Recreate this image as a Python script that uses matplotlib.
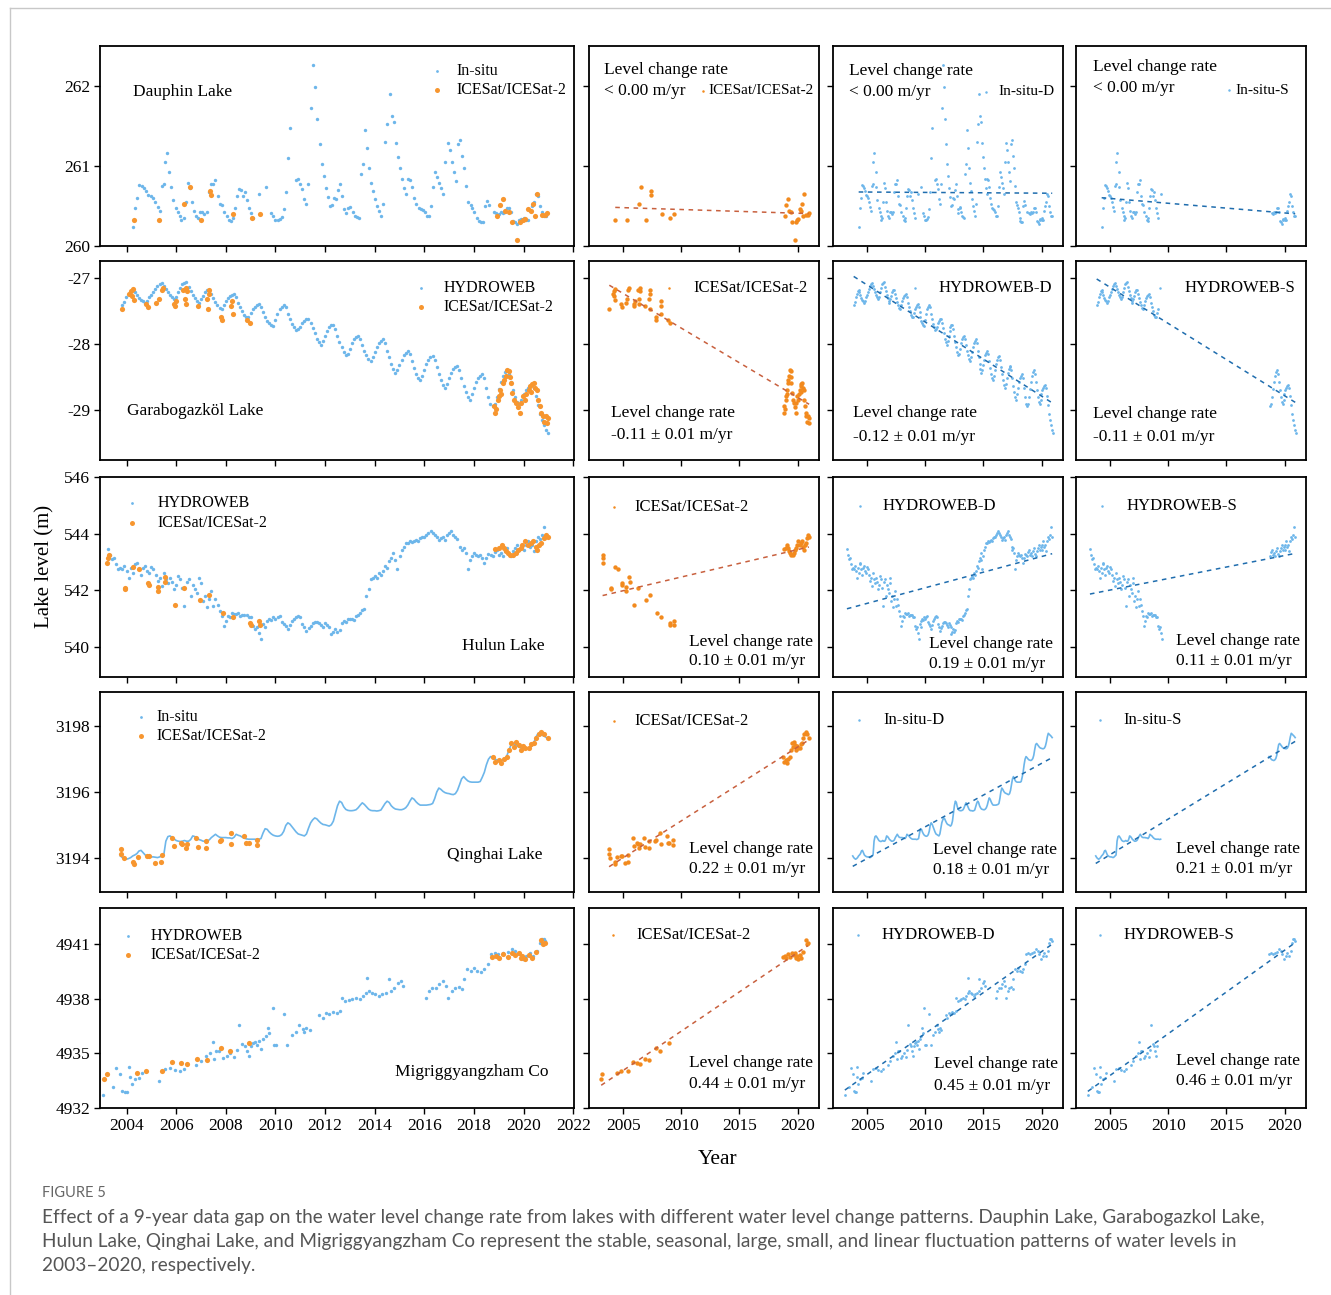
import numpy as np
import matplotlib
matplotlib.use("Agg")
import matplotlib.pyplot as plt
from matplotlib.lines import Line2D

plt.rcParams["font.family"] = ["Liberation Serif", "DejaVu Serif"]
plt.rcParams["axes.unicode_minus"] = False

W, H = 1331, 1295
BLUE = "#6db6ea"
ORANGE = "#f7962f"
ORANGE2 = "#f28a1e"
RED_LINE = "#c8603e"
BLUE_LINE = "#1f6dae"

# ---------------- data ----------------
# Dauphin Lake, in-situ
dau_t = [2004.26, 2004.35, 2004.43, 2004.52, 2004.61, 2004.70, 2004.79, 2004.88, 2004.97, 2005.07,
         2005.16, 2005.25, 2005.35, 2005.43, 2005.50, 2005.53, 2005.62, 2005.71, 2005.79, 2005.88,
         2005.98, 2006.06, 2006.14, 2006.21, 2006.30, 2006.38, 2006.47, 2006.56, 2006.63, 2006.70,
         2006.78, 2006.86, 2006.95, 2007.04, 2007.13, 2007.23, 2007.31, 2007.41, 2007.50, 2007.58,
         2007.68, 2007.76, 2007.84, 2007.94, 2008.04, 2008.12, 2008.21, 2008.29, 2008.37, 2008.44,
         2008.53, 2008.61, 2008.69, 2008.78, 2008.86, 2008.94, 2009.03, 2009.11, 2009.34, 2009.60,
         2009.84, 2009.92, 2010.00, 2010.09, 2010.17, 2010.25, 2010.34, 2010.41, 2010.51, 2010.60,
         2010.83, 2010.92, 2011.00, 2011.07, 2011.15, 2011.23, 2011.32, 2011.42, 2011.51, 2011.61,
         2011.69, 2011.78, 2011.86, 2011.94, 2012.03, 2012.11, 2012.18, 2012.27, 2012.35, 2012.43,
         2012.52, 2012.60, 2012.69, 2012.77, 2012.85, 2012.94, 2013.02, 2013.11, 2013.19, 2013.27,
         2013.35, 2013.44, 2013.52, 2013.61, 2013.68, 2013.77, 2013.85, 2013.93, 2014.01, 2014.10,
         2014.18, 2014.26, 2014.35, 2014.43, 2014.50, 2014.60, 2014.68, 2014.76, 2014.84, 2014.93,
         2015.02, 2015.10, 2015.18, 2015.27, 2015.35, 2015.43, 2015.52, 2015.60, 2015.68, 2015.77,
         2015.85, 2015.94, 2016.02, 2016.10, 2016.19, 2016.27, 2016.35, 2016.44, 2016.52, 2016.60,
         2016.69, 2016.77, 2016.85, 2016.94, 2017.02, 2017.10, 2017.19, 2017.27, 2017.36, 2017.44,
         2017.52, 2017.61, 2017.69, 2017.77, 2017.86, 2017.94, 2018.02, 2018.11, 2018.19, 2018.27,
         2018.36, 2018.44, 2018.52, 2018.61, 2018.79, 2018.88, 2019.00, 2019.08, 2019.16, 2019.25,
         2019.33, 2019.42, 2019.50, 2019.58, 2019.66, 2019.75, 2019.83, 2019.91, 2020.00, 2020.08,
         2020.16, 2020.25, 2020.33, 2020.41, 2020.50, 2020.58, 2020.66, 2020.75, 2020.83, 2020.92]
dau_v = [260.24, 260.47, 260.60, 260.76, 260.75, 260.72, 260.69, 260.64, 260.63, 260.60,
         260.55, 260.49, 260.44, 260.75, 260.78, 261.05, 261.16, 260.92, 260.74, 260.57,
         260.48, 260.42, 260.37, 260.33, 260.35, 260.55, 260.79, 260.72, 260.55, 260.44,
         260.37, 260.35, 260.43, 260.42, 260.40, 260.42, 260.67, 260.78, 260.78, 260.82,
         260.63, 260.52, 260.51, 260.43, 260.37, 260.33, 260.31, 260.35, 260.48, 260.63,
         260.71, 260.70, 260.63, 260.67, 260.57, 260.47, 260.41, 260.35, 260.65, 260.74,
         260.41, 260.37, 260.32, 260.33, 260.34, 260.36, 260.46, 260.68, 261.10, 261.47,
         260.83, 260.84, 260.78, 260.71, 260.59, 260.53, 260.78, 261.73, 262.26, 261.99,
         261.59, 261.27, 261.02, 260.87, 260.73, 260.61, 260.50, 260.51, 260.60, 260.59,
         260.70, 260.78, 260.63, 260.46, 260.41, 260.48, 260.49, 260.43, 260.38, 260.36,
         260.35, 260.90, 261.03, 261.45, 261.23, 260.97, 260.79, 260.69, 260.59, 260.50,
         260.44, 260.38, 260.52, 261.30, 261.53, 261.90, 261.62, 261.55, 261.29, 261.11,
         260.97, 260.84, 260.72, 260.65, 260.84, 260.83, 260.74, 260.60, 260.52, 260.48,
         260.46, 260.45, 260.43, 260.38, 260.37, 260.50, 260.74, 260.92, 260.86, 260.79,
         260.73, 260.65, 261.05, 261.29, 261.20, 261.05, 260.92, 260.81, 261.27, 261.33,
         261.13, 260.97, 260.75, 260.55, 260.51, 260.47, 260.42, 260.35, 260.31, 260.30,
         260.30, 260.50, 260.56, 260.51, 260.42, 260.41, 260.40, 260.43, 260.41, 260.42,
         260.48, 260.48, 260.42, 260.31, 260.30, 260.28, 260.33, 260.34, 260.35, 260.33,
         260.33, 260.44, 260.50, 260.55, 260.65, 260.62, 260.50, 260.43, 260.38, 260.38]
# Dauphin Lake, ICESat/ICESat-2
dau_ice_t = [2004.31, 2005.32, 2006.33, 2006.56, 2006.98, 2007.37, 2007.39, 2008.30, 2009.05, 2009.36,
             2018.94, 2019.04, 2019.17, 2019.24, 2019.42, 2019.52, 2019.75, 2019.84, 2019.98, 2020.05,
             2020.19, 2020.29, 2020.39, 2020.46, 2020.53, 2020.74, 2020.88, 2020.95]
dau_ice_v = [260.32, 260.33, 260.53, 260.74, 260.32, 260.69, 260.64, 260.40, 260.35, 260.40,
             260.38, 260.51, 260.59, 260.44, 260.43, 260.30, 260.08, 260.30, 260.33, 260.34,
             260.46, 260.44, 260.53, 260.38, 260.65, 260.39, 260.39, 260.41]

# Garabogazkol Lake, HYDROWEB (monthly from Nov 2003)
gar_t0 = 2003.83
gar_v = [-27.42, -27.37,
         -27.30, -27.24, -27.20, -27.18, -27.22, -27.27, -27.31, -27.34, -27.36, -27.38, -27.36, -27.30,
         -27.26, -27.22, -27.17, -27.13, -27.10, -27.08, -27.12, -27.17, -27.22, -27.26, -27.30, -27.33,
         -27.30, -27.22, -27.15, -27.10, -27.08, -27.07, -27.14, -27.20, -27.26, -27.31, -27.36, -27.38,
         -27.33, -27.28, -27.22, -27.19, -27.18, -27.24, -27.31, -27.37, -27.42, -27.46, -27.48, -27.42,
         -27.36, -27.31, -27.28, -27.26, -27.25, -27.30, -27.38, -27.45, -27.51, -27.56, -27.59, -27.60,
         -27.54, -27.48, -27.44, -27.41, -27.40, -27.44, -27.52, -27.59, -27.65, -27.69, -27.72, -27.73,
         -27.64, -27.55, -27.48, -27.44, -27.42, -27.45, -27.55, -27.63, -27.70, -27.75, -27.79, -27.78,
         -27.74, -27.69, -27.65, -27.63, -27.62, -27.68, -27.76, -27.84, -27.92, -27.97, -28.01, -27.95,
         -27.88, -27.80, -27.75, -27.72, -27.71, -27.78, -27.88, -27.97, -28.05, -28.12, -28.17, -28.15,
         -28.07, -27.99, -27.93, -27.90, -27.88, -27.92, -28.02, -28.10, -28.17, -28.22, -28.26, -28.20,
         -28.12, -28.04, -27.98, -27.95, -27.93, -27.98, -28.10, -28.20, -28.30, -28.38, -28.44, -28.40,
         -28.32, -28.24, -28.17, -28.13, -28.11, -28.15, -28.26, -28.36, -28.45, -28.51, -28.55, -28.48,
         -28.40, -28.31, -28.24, -28.20, -28.18, -28.24, -28.35, -28.46, -28.55, -28.62, -28.66, -28.60,
         -28.52, -28.44, -28.38, -28.35, -28.33, -28.40, -28.52, -28.63, -28.73, -28.80, -28.84, -28.76,
         -28.66, -28.57, -28.51, -28.48, -28.46, -28.52, -28.66, -28.80, -28.90, -28.94, -28.90, -28.80,
         -28.68, -28.57, -28.48, -28.42, -28.40, -28.45, -28.58, -28.70, -28.80, -28.87, -28.90, -28.84,
         -28.76, -28.70, -28.66, -28.64, -28.62, -28.66, -28.78, -28.92, -29.05, -29.15, -29.22, -29.30,
         -29.35]
gar_ice_t = [2003.80, 2004.10, 2004.17, 2004.22, 2004.26, 2004.31, 2004.78, 2004.85, 2005.20, 2005.32,
             2005.42, 2005.48, 2005.91, 2005.95, 2005.98, 2006.26, 2006.36, 2006.38, 2006.40, 2006.44,
             2006.89, 2007.24, 2007.28, 2007.31, 2007.33, 2007.79, 2007.84, 2008.21, 2008.24, 2008.28,
             2008.84, 2008.98,
             2018.80, 2018.84, 2018.90, 2018.98, 2019.00, 2019.06, 2019.10, 2019.16, 2019.22, 2019.27,
             2019.33, 2019.40, 2019.44, 2019.48, 2019.55, 2019.62, 2019.69, 2019.76, 2019.84, 2019.90,
             2019.96, 2020.04, 2020.10, 2020.20, 2020.26, 2020.30, 2020.33, 2020.40, 2020.46, 2020.52,
             2020.58, 2020.64, 2020.70, 2020.77, 2020.83, 2020.90, 2020.96, 2021.00]
gar_ice_v = [-27.48, -27.24, -27.20, -27.28, -27.17, -27.34, -27.40, -27.45, -27.38, -27.33,
             -27.18, -27.15, -27.40, -27.43, -27.36, -27.18, -27.33, -27.40, -27.15, -27.20,
             -27.43, -27.33, -27.48, -27.25, -27.18, -27.60, -27.64, -27.43, -27.35, -27.55,
             -27.64, -27.68,
             -28.94, -29.04, -28.98, -28.85, -28.79, -28.69, -28.75, -28.59, -28.55, -28.48,
             -28.39, -28.41, -28.50, -28.59, -28.74, -28.84, -28.89, -28.95, -29.04, -28.89,
             -28.79, -28.85, -28.75, -28.69, -28.64, -28.72, -28.61, -28.59, -28.66, -28.69,
             -28.84, -28.94, -29.04, -29.09, -29.17, -29.09, -29.19, -29.12]

# Hulun Lake, HYDROWEB (monthly from Apr 2003)
hul_t0 = 2003.25
hul_v = [543.45, 543.25, 543.10, 543.15, 542.95, 542.75, 542.80, 542.76, 542.85,
         542.70, 542.45, 542.80, 542.60, 542.95, 542.97, 542.74, 542.56, 542.80, 542.86, 542.70, 542.62,
         542.83, 542.76, 542.55, 542.33, 542.45, 542.16, 542.62, 542.40, 542.27, 542.45, 542.30, 542.04,
         542.20, 542.51, 542.39, 542.10, 541.46, 542.30, 542.39, 541.81, 542.21, 542.04, 541.90, 542.45,
         542.27, 541.63, 541.81, 541.40, 541.70, 541.98, 541.46, 541.69, 541.50, 541.28, 541.11, 540.76,
         540.93, 541.11, 541.05, 541.22, 541.18, 541.17, 541.20, 541.11, 541.14, 541.15, 541.12, 541.05,
         541.05, 540.76, 540.64, 540.70, 540.50, 540.29, 540.82, 540.70, 540.93, 540.99, 540.95, 541.05,
         540.99, 541.05, 541.11, 540.90, 540.82, 540.76, 540.64, 540.80, 540.93, 540.99, 541.05, 541.11,
         541.08, 540.82, 540.70, 540.58, 540.66, 540.75, 540.87, 540.90, 540.88, 540.85, 540.80, 540.70,
         540.85, 540.80, 540.70, 540.47, 540.55, 540.64, 540.52, 540.60, 540.87, 540.93, 540.90, 540.99,
         540.99, 541.00, 540.95, 541.11, 541.15, 541.22, 541.30, 541.34, 541.81, 542.04, 542.39, 542.45,
         542.51, 542.45, 542.62, 542.55, 542.68, 542.85, 542.80, 543.03, 543.15, 543.32, 543.09, 542.74,
         543.20, 543.44, 543.55, 543.67, 543.67, 543.73, 543.70, 543.73, 543.78, 543.73, 543.85, 543.90,
         543.90, 543.96, 544.02, 544.08, 544.02, 543.96, 543.90, 543.79, 543.85, 543.90, 543.79, 543.96,
         544.02, 544.08, 543.95, 543.90, 543.80, 543.55, 543.44, 543.50, 543.32, 542.74, 543.09, 543.21,
         543.32, 543.25, 543.21, 543.26, 543.15, 542.97, 543.15, 543.30, 543.26, 543.21, 543.35, 543.44,
         543.26, 543.32, 543.21, 543.38, 543.50, 543.30, 543.21, 543.38, 543.50, 543.61, 543.44, 543.55,
         543.44, 543.61, 543.73, 543.55, 543.61, 543.40, 543.73, 543.90, 543.80, 543.95, 544.25, 543.90]
hul_ice_t = [2003.22, 2003.25, 2003.28, 2003.92, 2003.93, 2004.27, 2004.52, 2004.88, 2004.89, 2005.26,
             2005.27, 2005.53, 2005.54, 2005.94, 2006.30, 2006.96, 2007.33, 2007.89, 2008.28, 2008.99,
             2009.00, 2009.35, 2009.36,
             2018.85, 2018.99, 2019.13, 2019.20, 2019.27, 2019.37, 2019.47, 2019.57, 2019.68, 2019.78,
             2019.88, 2019.95, 2020.07, 2020.18, 2020.28, 2020.38, 2020.48, 2020.55, 2020.62, 2020.69,
             2020.84, 2020.91, 2020.98]
hul_ice_v = [542.97, 543.15, 543.26, 542.10, 542.04, 542.82, 542.77, 542.27, 542.21, 542.13,
             541.98, 542.47, 542.30, 541.48, 542.07, 541.66, 541.83, 541.19, 541.05, 540.87,
             540.78, 540.93, 540.78,
             543.46, 543.50, 543.61, 543.50, 543.38, 543.32, 543.26, 543.26, 543.32, 543.44,
             543.50, 543.61, 543.73, 543.61, 543.67, 543.73, 543.53, 543.44, 543.61, 543.67,
             543.85, 543.96, 543.90]

# Qinghai Lake, in-situ (monthly from Oct 2003)
qin_t0 = 2003.75
qin_v = [3194.05, 3194.00, 3193.97,
         3193.95, 3193.97, 3194.00, 3194.05, 3194.08, 3194.12, 3194.20, 3194.22, 3194.15, 3194.08, 3194.05, 3194.03,
         3194.02, 3194.02, 3194.01, 3194.00, 3194.02, 3194.05, 3194.08, 3194.50, 3194.64, 3194.66, 3194.62, 3194.57,
         3194.52, 3194.50, 3194.49, 3194.50, 3194.52, 3194.50, 3194.50, 3194.55, 3194.66, 3194.64, 3194.60, 3194.55,
         3194.53, 3194.50, 3194.50, 3194.51, 3194.54, 3194.61, 3194.66, 3194.71, 3194.66, 3194.62, 3194.61, 3194.61,
         3194.61, 3194.60, 3194.60, 3194.58, 3194.62, 3194.71, 3194.68, 3194.66, 3194.62, 3194.59, 3194.57, 3194.56,
         3194.56, 3194.56, 3194.56, 3194.55, 3194.56, 3194.58, 3194.75, 3194.88, 3194.86, 3194.78, 3194.72, 3194.68,
         3194.66, 3194.65, 3194.66, 3194.70, 3194.80, 3194.98, 3195.06, 3195.02, 3194.94, 3194.86, 3194.78, 3194.72,
         3194.70, 3194.68, 3194.66, 3194.72, 3194.90, 3195.06, 3195.15, 3195.21, 3195.18, 3195.11, 3195.05, 3195.01,
         3195.00, 3194.98, 3194.96, 3195.00, 3195.11, 3195.35, 3195.58, 3195.72, 3195.68, 3195.55, 3195.47, 3195.44,
         3195.43, 3195.43, 3195.44, 3195.46, 3195.52, 3195.60, 3195.67, 3195.62, 3195.55, 3195.48, 3195.44, 3195.43,
         3195.43, 3195.42, 3195.43, 3195.45, 3195.55, 3195.65, 3195.72, 3195.68, 3195.58, 3195.52, 3195.48, 3195.47,
         3195.46, 3195.46, 3195.48, 3195.52, 3195.60, 3195.72, 3195.82, 3195.78, 3195.70, 3195.64, 3195.60, 3195.60,
         3195.60, 3195.60, 3195.61, 3195.62, 3195.65, 3195.80, 3196.00, 3196.12, 3196.08, 3196.02, 3195.98, 3195.96,
         3195.95, 3195.93, 3195.92, 3195.95, 3196.05, 3196.22, 3196.40, 3196.47, 3196.40, 3196.34, 3196.31, 3196.30,
         3196.30, 3196.30, 3196.30, 3196.32, 3196.45, 3196.60, 3196.83, 3197.00, 3197.08, 3197.05, 3197.01, 3196.98,
         3196.97, 3196.96, 3196.98, 3197.02, 3197.12, 3197.30, 3197.45, 3197.48, 3197.44, 3197.40, 3197.36, 3197.34,
         3197.33, 3197.32, 3197.32, 3197.34, 3197.40, 3197.52, 3197.68, 3197.79, 3197.76, 3197.73, 3197.70, 3197.66]
qin_ice_t = [2003.78, 2003.79, 2003.88, 2004.25, 2004.30, 2004.48, 2004.83, 2004.90, 2005.13, 2005.40,
             2005.41, 2005.85, 2005.90, 2006.18, 2006.24, 2006.38, 2006.45, 2006.80, 2006.86, 2007.20,
             2007.21, 2007.76, 2007.80, 2008.20, 2008.21, 2008.75, 2008.82, 2008.95, 2009.25, 2009.26,
             2018.75, 2018.85, 2019.00, 2019.07, 2019.20, 2019.33, 2019.42, 2019.50, 2019.60, 2019.70,
             2019.80, 2019.90, 2019.98, 2020.06, 2020.20, 2020.30, 2020.40, 2020.50, 2020.60, 2020.70,
             2020.84, 2020.98]
qin_ice_v = [3194.25, 3194.10, 3194.00, 3193.85, 3193.80, 3194.02, 3194.05, 3194.05, 3193.82, 3193.85,
             3194.08, 3194.59, 3194.35, 3194.45, 3194.42, 3194.28, 3194.40, 3194.61, 3194.32, 3194.50,
             3194.30, 3194.50, 3194.53, 3194.76, 3194.42, 3194.66, 3194.45, 3194.43, 3194.54, 3194.38,
             3197.08, 3196.93, 3196.98, 3196.88, 3197.01, 3197.08, 3197.28, 3197.48, 3197.38, 3197.53,
             3197.43, 3197.28, 3197.40, 3197.33, 3197.35, 3197.45, 3197.48, 3197.64, 3197.76, 3197.82,
             3197.76, 3197.66]

# Migriggyangzham Co, HYDROWEB
mig_t = [2003.07, 2003.44, 2003.56, 2003.75, 2003.83, 2003.93, 2004.03, 2004.11, 2004.14, 2004.21,
         2004.35, 2004.51, 2004.62, 2005.32, 2005.53, 2005.74, 2005.94, 2006.15, 2006.33, 2006.78,
         2006.99, 2007.19, 2007.38, 2007.50, 2007.54, 2007.61, 2007.71, 2007.89, 2008.03, 2008.17,
         2008.31, 2008.44, 2008.54, 2008.65, 2008.76, 2008.86, 2008.93, 2009.00, 2009.10, 2009.18,
         2009.26, 2009.35, 2009.42, 2009.51, 2009.63, 2009.69, 2009.76, 2009.90, 2009.93, 2010.04,
         2010.33, 2010.46, 2010.67, 2010.81, 2010.96, 2011.10, 2011.17, 2011.24, 2011.38, 2011.76,
         2011.90, 2012.03, 2012.17, 2012.32, 2012.46, 2012.60, 2012.67, 2012.82, 2012.96, 2013.10,
         2013.26, 2013.40, 2013.53, 2013.63, 2013.69, 2013.75, 2013.89, 2014.03, 2014.17, 2014.31,
         2014.44, 2014.58, 2014.65, 2014.79, 2014.92, 2015.07, 2015.14, 2016.07, 2016.17, 2016.31,
         2016.47, 2016.61, 2016.75, 2016.89, 2016.97, 2017.10, 2017.24, 2017.38, 2017.51, 2017.58,
         2017.72, 2017.86, 2018.00, 2018.14, 2018.28, 2018.42, 2018.56, 2018.70, 2018.83, 2018.97,
         2019.18, 2019.39, 2019.53, 2019.67, 2019.82, 2019.97, 2020.10, 2020.25, 2020.39, 2020.53,
         2020.67, 2020.74, 2020.81, 2020.88]
mig_v = [4932.74, 4933.16, 4934.21, 4933.89, 4932.92, 4932.86, 4932.86, 4934.24, 4933.71, 4933.34,
         4933.60, 4933.65, 4933.93, 4933.47, 4934.17, 4934.21, 4934.11, 4934.06, 4934.15, 4934.35,
         4934.57, 4934.85, 4935.03, 4935.62, 4934.67, 4935.12, 4935.12, 4934.76, 4934.85, 4935.00,
         4934.81, 4935.18, 4936.54, 4935.53, 4935.40, 4935.12, 4934.85, 4935.40, 4935.55, 4935.62,
         4935.49, 4935.68, 4935.25, 4935.77, 4935.95, 4936.41, 4936.14, 4937.51, 4935.49, 4935.49,
         4937.15, 4935.49, 4936.04, 4936.17, 4936.54, 4936.36, 4936.17, 4936.41, 4936.28, 4937.09,
         4936.96, 4937.24, 4937.15, 4937.28, 4937.24, 4937.33, 4938.07, 4937.88, 4937.94, 4938.01,
         4938.07, 4937.97, 4938.16, 4938.31, 4939.13, 4938.43, 4938.34, 4938.25, 4938.16, 4938.25,
         4938.34, 4939.11, 4938.43, 4938.62, 4938.89, 4938.99, 4938.71, 4938.07, 4938.43, 4938.62,
         4938.62, 4938.80, 4938.99, 4938.71, 4938.07, 4938.43, 4938.62, 4938.67, 4938.53, 4939.08,
         4939.63, 4939.54, 4939.72, 4939.54, 4939.48, 4939.63, 4939.90, 4940.46, 4940.55, 4940.46,
         4940.55, 4940.58, 4940.73, 4940.64, 4940.46, 4940.18, 4940.36, 4940.55, 4940.36, 4940.64,
         4941.10, 4941.32, 4941.28, 4941.19]
mig_ice_t = [2003.10, 2003.21, 2004.42, 2004.79, 2005.43, 2005.85, 2006.19, 2006.43, 2006.85, 2007.24,
             2007.81, 2008.18, 2008.93,
             2018.72, 2018.90, 2019.00, 2019.17, 2019.39, 2019.53, 2019.67, 2019.80, 2019.88, 2019.95,
             2020.04, 2020.22, 2020.32, 2020.50, 2020.71, 2020.80, 2020.88]
mig_ice_v = [4933.60, 4933.89, 4933.93, 4934.02, 4934.02, 4934.54, 4934.48, 4934.44, 4934.70, 4934.63,
             4935.31, 4935.16, 4935.58,
             4940.33, 4940.36, 4940.27, 4940.46, 4940.33, 4940.55, 4940.40, 4940.51, 4940.27, 4940.36,
             4940.18, 4940.40, 4940.27, 4940.58, 4941.25, 4941.01, 4941.06]

lake_names = ["Dauphin Lake", "Garabogazköl Lake", "Hulun Lake", "Qinghai Lake", "Migriggyangzham Co"]
sources = ["In-situ", "HYDROWEB", "HYDROWEB", "In-situ", "HYDROWEB"]
rate_ice = [None, -0.11, 0.10, 0.22, 0.44]
rate_d = [None, -0.12, 0.19, 0.18, 0.45]
rate_s = [None, -0.11, 0.11, 0.21, 0.46]
rate_err = 0.01
ylims = [(260, 262.5), (-29.75, -26.75), (538.95, 546), (3192.95, 3199.05), (4932, 4943)]
yticks = [[260, 261, 262], [-29, -28, -27], [540, 542, 544, 546], [3194, 3196, 3198],
          [4932, 4935, 4938, 4941]]
year_ticks_full = list(range(2004, 2023, 2))
year_ticks_short = [2005, 2010, 2015, 2020]

series = [
    (np.array(dau_t), np.array(dau_v), np.array(dau_ice_t), np.array(dau_ice_v)),
    (gar_t0 + np.arange(len(gar_v)) / 12, np.array(gar_v), np.array(gar_ice_t), np.array(gar_ice_v)),
    (hul_t0 + np.arange(len(hul_v)) / 12, np.array(hul_v), np.array(hul_ice_t), np.array(hul_ice_v)),
    (qin_t0 + np.arange(len(qin_v)) / 12, np.array(qin_v), np.array(qin_ice_t), np.array(qin_ice_v)),
    (np.array(mig_t), np.array(mig_v), np.array(mig_ice_t), np.array(mig_ice_v)),
]

# ---------------- layout ----------------
rows_px = [(46, 246), (261, 460), (477, 677), (692, 892), (908, 1108)]
cols_px = [(100, 574), (589, 819), (833, 1063), (1076, 1306)]

# name position (x, y, ha), legend marker x, legend text x, legend y's
name_pos = [(0.069, 0.769, "left"), (0.057, 0.244, "left"), (0.939, 0.157, "right"),
            (0.933, 0.185, "right"), (0.947, 0.181, "right")]
leg1 = [(0.710, 0.753, 0.874, 0.780), (0.678, 0.724, 0.862, 0.767), (0.067, 0.121, 0.868, 0.768),
        (0.086, 0.120, 0.873, 0.779), (0.060, 0.106, 0.859, 0.766)]
# per row, per col 2-4: legend (marker x, text x, y) and rate text (x, y1, y2)
leg_small = [
    [(0.496, 0.521, 0.776), (0.665, 0.720, 0.772), (0.665, 0.695, 0.778)],
    [(0.348, 0.452, 0.866), (0.355, 0.459, 0.864), (0.367, 0.471, 0.864)],
    [(0.110, 0.197, 0.850), (0.118, 0.216, 0.855), (0.115, 0.219, 0.855)],
    [(0.110, 0.197, 0.855), (0.112, 0.220, 0.860), (0.104, 0.208, 0.860)],
    [(0.103, 0.206, 0.866), (0.107, 0.211, 0.866), (0.103, 0.206, 0.866)],
]
rate_pos = [
    [(0.067, 0.880, 0.777), (0.070, 0.877, 0.772), (0.072, 0.893, 0.788)],
    [(0.094, 0.235, 0.126), (0.087, 0.235, 0.118), (0.073, 0.232, 0.118)],
    [(0.436, 0.174, 0.078), (0.419, 0.167, 0.066), (0.433, 0.178, 0.078)],
    [(0.436, 0.215, 0.116), (0.435, 0.212, 0.111), (0.433, 0.215, 0.116)],
    [(0.433, 0.226, 0.121), (0.437, 0.218, 0.112), (0.433, 0.235, 0.134)],
]

fig = plt.figure(figsize=(W / 100, H / 100), dpi=100)


def make_ax(l, r, t, b):
    return fig.add_axes([l / W, 1 - b / H, (r - l) / W, (b - t) / H])


def key(ax, mx, tx, y, color, label, ms, fs):
    ax.plot([mx], [y], marker="o", ms=ms, color=color, mew=0, ls="none",
            transform=ax.transAxes, clip_on=False)
    ax.text(tx, y, label, transform=ax.transAxes, ha="left", va="center", fontsize=fs)


def trend(ax, t, v, color):
    k, b = np.polyfit(t, v, 1)
    xs = np.array([t.min(), t.max()])
    ax.plot(xs, k * xs + b, ls=(0, (3, 3)), lw=1.1, color=color, zorder=5)


def draw_blue(ax, t, v, row, s):
    if row == 3:
        ax.plot(t, v, color=BLUE, lw=1.2, zorder=2)
    else:
        ax.scatter(t, v, s=s, color=BLUE, lw=0, zorder=2)


for i in range(5):
    t, v, it, iv = series[i]
    top, bot = rows_px[i]
    early = it[it < 2015]
    late = it[it > 2015]
    win = ((t >= early.min() - 0.1) & (t <= early.max() + 0.1)) | \
          ((t >= late.min() - 0.1) & (t <= late.max() + 0.1))
    for j in range(4):
        l, r = cols_px[j]
        ax = make_ax(l, r, top, bot)
        if j == 0:
            draw_blue(ax, t, v, i, 6)
            ax.scatter(it, iv, s=14, color=ORANGE, lw=0, zorder=3)
            ax.set_xlim(2002.93, 2022.03)
            ax.set_xticks(year_ticks_full)
            nx, ny, ha = name_pos[i]
            ax.text(nx, ny, lake_names[i], transform=ax.transAxes, ha=ha, va="center", fontsize=12.5)
            mx, tx, y1, y2 = leg1[i]
            key(ax, mx, tx, y1, BLUE, sources[i], 2.0, 11.5)
            key(ax, mx, tx, y2, ORANGE, "ICESat/ICESat-2", 3.6, 11.5)
        else:
            if j == 1:
                ax.scatter(it, iv, s=10, color=ORANGE2, lw=0, zorder=3)
                trend(ax, it, iv, RED_LINE)
                label, color, rate = "ICESat/ICESat-2", ORANGE2, rate_ice[i]
            elif j == 2:
                draw_blue(ax, t, v, i, 4)
                trend(ax, t, v, BLUE_LINE)
                label, color, rate = sources[i] + "-D", BLUE, rate_d[i]
            else:
                if i == 3:
                    for seg in (t <= 2012, t > 2012):
                        m = win & seg
                        ax.plot(t[m], v[m], color=BLUE, lw=1.2, zorder=2)
                else:
                    ax.scatter(t[win], v[win], s=4, color=BLUE, lw=0, zorder=2)
                trend(ax, t[win], v[win], BLUE_LINE)
                label, color, rate = sources[i] + "-S", BLUE, rate_s[i]
            ax.set_xlim(2002.05, 2021.85)
            ax.set_xticks(year_ticks_short)
            ax.tick_params(labelleft=False)
            mx, tx, y = leg_small[i][j - 1]
            fs = 11 if i == 0 else 12
            key(ax, mx, tx, y, color, label, 1.8, fs)
            rx, ry1, ry2 = rate_pos[i][j - 1]
            rate_txt = "< 0.00 m/yr" if rate is None else f"{rate:.2f} \u00b1 {rate_err:.2f} m/yr"
            ax.text(rx, ry1, "Level change rate", transform=ax.transAxes, ha="left", va="center", fontsize=12.5)
            ax.text(rx, ry2, rate_txt, transform=ax.transAxes, ha="left", va="center", fontsize=12.5)
        ax.set_ylim(*ylims[i])
        ax.set_yticks(yticks[i])
        ax.tick_params(direction="out", length=4, width=1, labelsize=12.5, pad=3)
        if i < 4:
            ax.tick_params(labelbottom=False)
        for sp in ax.spines.values():
            sp.set_linewidth(1.3)

fig.text(718 / W, 1 - 1160 / H, "Year", ha="center", va="center", fontsize=15.5)
fig.text(45 / W, 1 - 566 / H, "Lake level (m)", ha="center", va="center", rotation=90, fontsize=15)

# caption
cap_font = ["Lato", "DejaVu Sans"]
fig.text(42 / W, 1 - 1193 / H, "FIGURE 5", ha="left", va="center", fontsize=10.5,
         color="#666666", family=cap_font)
caption = [
    "Effect of a 9-year data gap on the water level change rate from lakes with different water level change patterns. Dauphin Lake, Garabogazkol Lake,",
    "Hulun Lake, Qinghai Lake, and Migriggyangzham Co represent the stable, seasonal, large, small, and linear fluctuation patterns of water levels in",
    "2003\u20132020, respectively.",
]
for k, line in enumerate(caption):
    fig.text(42 / W, 1 - (1217 + 24 * k) / H, line, ha="left", va="center", fontsize=13.7,
             color="#555555", family=cap_font)

# page border
fig.add_artist(Line2D([10 / W, 10 / W], [0, 1 - 8 / H], transform=fig.transFigure, color="#c8c8c8", lw=1))
fig.add_artist(Line2D([10 / W, 1], [1 - 8 / H, 1 - 8 / H], transform=fig.transFigure, color="#c8c8c8", lw=1))

fig.savefig("out.png", dpi=100)
